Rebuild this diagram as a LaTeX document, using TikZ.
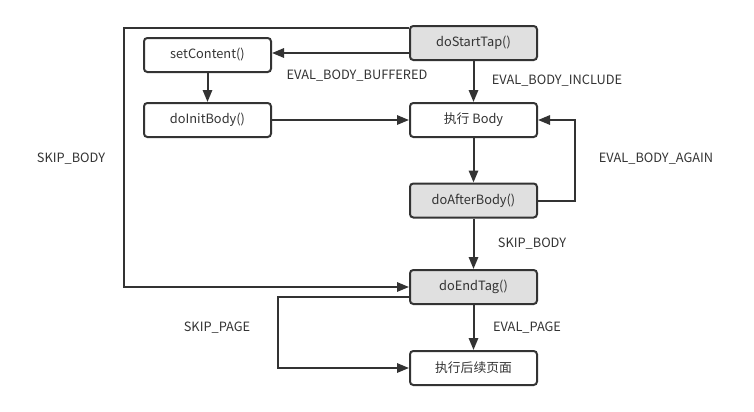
\documentclass[tikz,border=0pt]{standalone}
\usepackage{fontspec}
\setmainfont{Noto Sans CJK SC}
\usetikzlibrary{arrows.meta}
\definecolor{linegray}{HTML}{333333}
\definecolor{boxgray}{HTML}{E0E0E0}
\begin{document}
\begin{tikzpicture}[x=0.75pt,y=-0.75pt,
  box/.style={draw=linegray, line width=1.5pt, rounded corners=2.5pt,
    minimum width=95.25pt, minimum height=25.5pt, inner sep=0pt,
    font=\fontsize{9.6}{11}\selectfont, text=linegray},
  lab/.style={font=\fontsize{9.6}{11}\selectfont, text=linegray},
  arr/.style={draw=linegray, line width=1.5pt,
    -{Triangle[length=9pt,width=7pt]}}]
  \useasboundingbox (0,0) rectangle (754,411);

  % kassar
  \node[box, fill=boxgray] (start) at (473.5,43) {doStartTap()};
  \node[box] (content) at (207.5,55) {setContent()};
  \node[box] (init) at (207.5,120) {doInitBody()};
  \node[box] (body) at (473.5,120) {执行 Body};
  \node[box, fill=boxgray] (after) at (473.5,200.5) {doAfterBody()};
  \node[box, fill=boxgray] (end) at (473.5,287) {doEndTag()};
  \node[box] (page) at (473.5,368) {执行后续页面};

  % beygjur
  \coordinate (skipbody) at (124,28);
  \coordinate (again) at (575,200.5);
  \coordinate (skippage) at (278,297);

  % örvar
  \draw[arr] ([yshift=-7.5pt]start.west) -- ([yshift=-7.5pt]start.west -| content.east);
  \draw[arr] (start) -- (body);
  \draw[arr] (content) -- (init);
  \draw[arr] (init) -- (body);
  \draw[arr] (body) -- (after);
  \draw[arr] (after.east) -- (again) |- (body.east);
  \draw[arr] (after) -- (end);
  \draw[arr] ([yshift=11.25pt]start.west) -- (skipbody) |- (end.west);
  \draw[arr] ([yshift=-7.5pt]end.west) -- (skippage) |- (page.west);
  \draw[arr] (end) -- (page);

  % merki
  \node[lab] (buffered) at (357,76) {EVAL\_BODY\_BUFFERED};
  \node[lab] (include) at (557,81) {EVAL\_BODY\_INCLUDE};
  \node[lab] (againlab) at (656,159) {EVAL\_BODY\_AGAIN};
  \node[lab] (skipbodylab) at (532,244) {SKIP\_BODY};
  \node[lab] (skipbodyleft) at (71,159) {SKIP\_BODY};
  \node[lab] (skippagelab) at (217,328) {SKIP\_PAGE};
  \node[lab] (evalpage) at (527,328) {EVAL\_PAGE};
\end{tikzpicture}
\end{document}
